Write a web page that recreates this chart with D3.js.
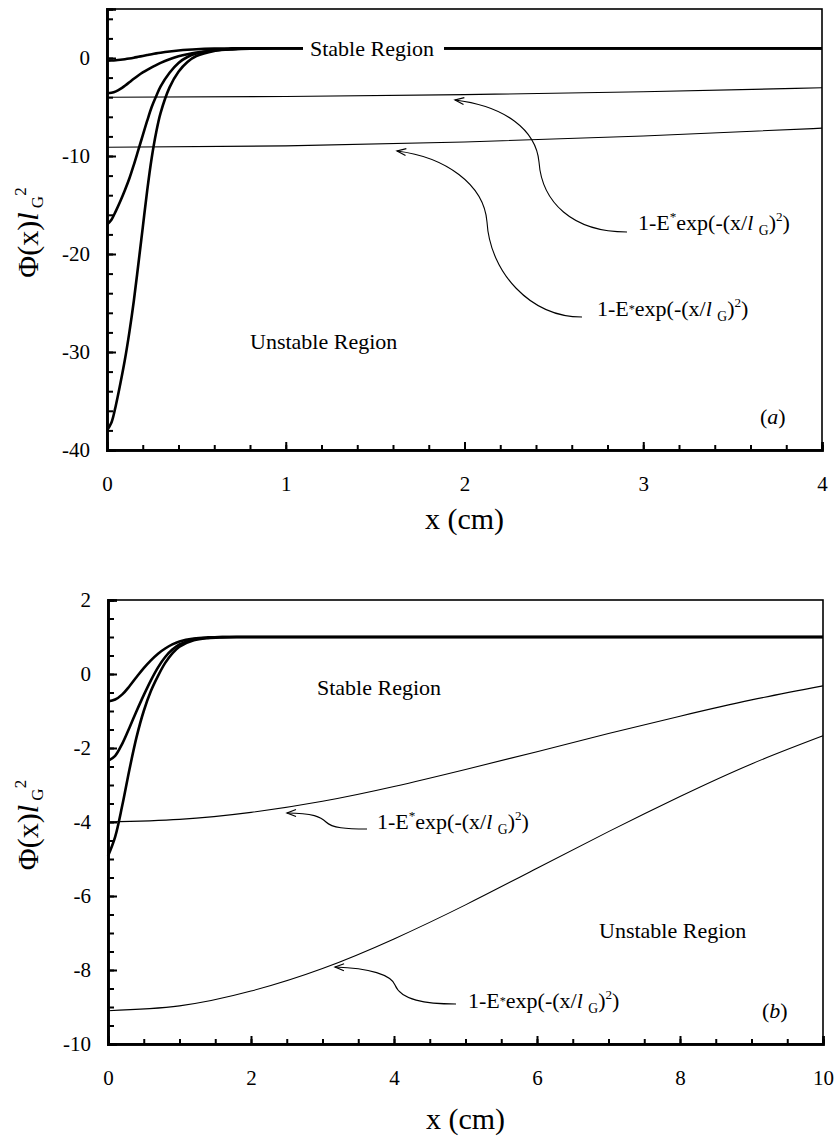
<!DOCTYPE html>
<html>
<head>
<meta charset="utf-8">
<script src="https://cdn.jsdelivr.net/npm/d3@7"></script>
<style>
  body { margin: 0; background: #fff; }
  text { font-family: "Liberation Serif", "Times New Roman", serif; fill: #000; }
</style>
</head>
<body>
<script>
'use strict';

// panel (a): heavy curves, sampled along xsA
const xsA = [0, 0.025, 0.05, 0.075, 0.1, 0.125, 0.15, 0.175, 0.2, 0.225, 0.25, 0.275,
  0.3, 0.35, 0.4, 0.45, 0.5, 0.6, 0.7, 0.8, 0.9, 1.0, 1.2, 4];
const curveA1 = [-0.27, -0.26, -0.23, -0.18, -0.12, -0.05, 0.03, 0.12, 0.21, 0.3, 0.39, 0.47,
  0.54, 0.66, 0.76, 0.84, 0.9, 0.96, 0.98, 0.99, 1, 1, 1, 1];
const curveA2 = [-3.6, -3.55, -3.4, -3.15, -2.83, -2.48, -2.12, -1.78, -1.47, -1.2, -0.95, -0.72,
  -0.5, -0.12, 0.17, 0.39, 0.56, 0.77, 0.88, 0.95, 0.98, 1, 1, 1];
const curveA3 = [-17.0, -16.5, -15.6, -14.6, -13.5, -12.3, -10.9, -9.4, -7.9, -6.4, -5.0, -3.9,
  -2.9, -1.5, -0.5, 0.1, 0.45, 0.78, 0.93, 0.98, 1, 1, 1, 1];
const curveA4 = [-38.0, -37.2, -35.4, -33.2, -30.8, -28.0, -24.8, -21.1, -17.3, -13.5, -10.2, -7.6,
  -5.6, -3.0, -1.4, -0.4, 0.2, 0.72, 0.92, 0.98, 1, 1, 1, 1];

// panel (a): thin gaussian lines
const xsAThin = [0, 1, 2, 3, 4];
const upperA = [-4.0, -3.93, -3.74, -3.44, -3.04];
const lowerA = [-9.1, -8.97, -8.57, -7.96, -7.16];

// panel (b)
const xsB = [0, 0.1, 0.2, 0.3, 0.4, 0.5, 0.6, 0.7, 0.8, 0.9, 1.0, 1.2, 1.4, 1.6, 1.8, 2.0, 10];
const curveB1 = [-0.74, -0.69, -0.55, -0.33, -0.08, 0.16, 0.37, 0.55, 0.69, 0.8, 0.88, 0.96, 0.99, 1, 1, 1, 1];
const curveB2 = [-2.35, -2.21, -1.88, -1.45, -1.0, -0.57, -0.17, 0.18, 0.46, 0.66, 0.8, 0.94, 0.98, 1, 1, 1, 1];
const curveB3 = [-4.92, -4.4, -3.55, -2.58, -1.7, -1.0, -0.46, -0.05, 0.3, 0.56, 0.74, 0.91, 0.97, 0.99, 1, 1, 1];

const xsBThin = [0, 1, 2, 3, 4, 5, 6, 7, 8, 9, 10];
const upperB = [-4.0, -3.93, -3.74, -3.44, -3.04, -2.58, -2.10, -1.61, -1.14, -0.70, -0.32];
const lowerB = [-9.1, -8.97, -8.57, -7.96, -7.16, -6.24, -5.25, -4.26, -3.31, -2.43, -1.67];

// ticks
const xMajorA = [0, 1, 2, 3, 4];
const xMinorA = d3.range(0, 4.001, 0.2);
const yMajorA = [-40, -30, -20, -10, 0];
const yMinorA = d3.range(-40, 5.001, 2);
const xMajorB = [0, 2, 4, 6, 8, 10];
const xMinorB = d3.range(0, 10.001, 0.5);
const yMajorB = [-10, -8, -6, -4, -2, 0, 2];
const yMinorB = d3.range(-10, 2.001, 0.5);

const svg = d3.select('body').append('svg')
  .attr('width', 836)
  .attr('height', 1138);

let defs = svg.append('defs');
defs.append('marker')
  .attr('id', 'arrow')
  .attr('viewBox', '-10 -5 12 10')
  .attr('refX', 0).attr('refY', 0)
  .attr('markerWidth', 12).attr('markerHeight', 10)
  .attr('markerUnits', 'userSpaceOnUse')
  .attr('orient', 'auto-start-reverse')
  .append('path')
    .attr('d', 'M-9,-3.5 L0,0 L-9,3.5')
    .attr('fill', 'none')
    .attr('stroke', '#000')
    .attr('stroke-width', 1.2);

function zip(xs, ys) {
  return xs.map(function(x, i) { return [x, ys[i]]; });
}

// text with sub/superscript parts: [string, kind]
function rich(g, x, y, size, parts, anchor) {
  let t = g.append('text')
    .attr('x', x).attr('y', y)
    .attr('text-anchor', anchor || 'start')
    .style('font-size', size + 'px');
  let cur = 0;
  parts.forEach(function(p) {
    let kind = p[1] || '';
    let off = 0, fs = size;
    if (kind === 'sup') { off = -size * 0.42; fs = size * 0.6; }
    if (kind === 'sub') { off = size * 0.22; fs = size * 0.62; }
    if (kind === 'mid') { off = -size * 0.12; fs = size * 0.55; }
    let ts = t.append('tspan').attr('dy', off - cur).style('font-size', fs + 'px').text(p[0]);
    if (kind === 'i') ts.style('font-style', 'italic');
    cur = off;
  });
  return t;
}

function formula(star) {
  return [['1-E'], ['*', star], ['exp(-(x/'], ['l', 'i'], [' '], ['G', 'sub'], [')'], ['2', 'sup'], [')']];
}

function drawPanel(p) {
  let g = svg.append('g');
  let x = d3.scaleLinear().domain(p.xDomain).range([p.left, p.right]);
  let y = d3.scaleLinear().domain(p.yDomain).range([p.bottom, p.top]);

  // frame (top / right thinner)
  g.append('rect')
    .attr('x', p.left).attr('y', p.top)
    .attr('width', p.right - p.left).attr('height', p.bottom - p.top)
    .attr('fill', 'none').attr('stroke', '#000').attr('stroke-width', 1.6);

  let line = d3.line()
    .x(function(d) { return x(d[0]); })
    .y(function(d) { return y(d[1]); });

  p.thin.forEach(function(s) {
    g.append('path')
      .datum(s)
      .attr('d', line.curve(d3.curveNatural))
      .attr('fill', 'none').attr('stroke', '#000').attr('stroke-width', 1.1);
  });
  p.heavy.forEach(function(s) {
    g.append('path')
      .datum(s)
      .attr('d', line.curve(d3.curveCatmullRom.alpha(0.5)))
      .attr('fill', 'none').attr('stroke', '#000').attr('stroke-width', 2.6);
  });

  // axes, ticks inward
  let xMinor = g.append('g').attr('transform', 'translate(0,' + p.bottom + ')')
    .call(d3.axisBottom(x).tickValues(p.xMinor).tickSize(-5).tickFormat(''));
  let xMajor = g.append('g').attr('transform', 'translate(0,' + p.bottom + ')')
    .call(d3.axisBottom(x).tickValues(p.xMajor).tickSize(-8).tickPadding(26).tickFormat(d3.format('d')));
  let yMinor = g.append('g').attr('transform', 'translate(' + p.left + ',0)')
    .call(d3.axisLeft(y).tickValues(p.yMinor).tickSize(-6).tickFormat(''));
  let yMajor = g.append('g').attr('transform', 'translate(' + p.left + ',0)')
    .call(d3.axisLeft(y).tickValues(p.yMajor).tickSize(-9).tickPadding(17)
      .tickFormat(function(d) { return String(d).replace('−', '-'); }));

  [xMinor, xMajor, yMinor, yMajor].forEach(function(a) {
    a.attr('font-family', null);
    a.select('.domain').attr('stroke-width', 2.6);
    a.selectAll('.tick line').attr('stroke-width', 2);
    a.selectAll('.tick text')
      .style('font-family', '"Liberation Serif", serif')
      .style('font-size', '21px');
  });
  xMajor.selectAll('.tick text').attr('dy', '0.71em');

  // axis titles
  g.append('text')
    .attr('x', (p.left + p.right) / 2 + 0).attr('y', p.bottom + p.titleGap)
    .attr('text-anchor', 'middle')
    .style('font-size', '30px')
    .text('x (cm)');

  let cy = (p.top + p.bottom) / 2 + 3;
  let yt = g.append('g').attr('transform', 'translate(38,' + cy + ') rotate(-90)');
  let tt = yt.append('text').attr('x', 0).attr('y', 0)
    .attr('text-anchor', 'middle').style('font-size', '30px');
  tt.append('tspan').text('Φ(x)');
  tt.append('tspan').style('font-style', 'italic').text('l');
  tt.append('tspan').attr('dy', 5).style('font-size', '17px').text(' G');
  tt.append('tspan').attr('dy', -17).style('font-size', '17px').text('2');

  return { g: g, x: x, y: y };
}

// ---------- panel (a)
let pa = drawPanel({
  left: 107, right: 822, top: 9, bottom: 450, titleGap: 79,
  xDomain: [0, 4], yDomain: [-40, 5],
  xMajor: xMajorA, xMinor: xMinorA, yMajor: yMajorA, yMinor: yMinorA,
  heavy: [zip(xsA, curveA1), zip(xsA, curveA2), zip(xsA, curveA3), zip(xsA, curveA4)],
  thin: [zip(xsAThin, upperA), zip(xsAThin, lowerA)]
});

pa.g.append('rect')
  .attr('x', 303).attr('y', 38).attr('width', 141).attr('height', 22)
  .attr('fill', '#fff');
pa.g.append('text').attr('x', 310).attr('y', 56).style('font-size', '22px').text('Stable Region');
pa.g.append('text').attr('x', 250).attr('y', 349).style('font-size', '22px').text('Unstable Region');
rich(pa.g, 760, 424, 22, [['('], ['a', 'i'], [')']]);

pa.g.append('path')
  .attr('d', 'M455,100 C505,106 536,130 539,162 C542,202 572,232 627,232')
  .attr('fill', 'none').attr('stroke', '#000').attr('stroke-width', 1.1)
  .attr('marker-start', 'url(#arrow)');
rich(pa.g, 638, 230, 22, formula('sup'));

pa.g.append('path')
  .attr('d', 'M397,151 C445,157 484,184 487,222 C490,272 530,317 582,317')
  .attr('fill', 'none').attr('stroke', '#000').attr('stroke-width', 1.1)
  .attr('marker-start', 'url(#arrow)');
rich(pa.g, 597, 316, 22, formula('mid'));

// ---------- panel (b)
let pb = drawPanel({
  left: 108, right: 823, top: 600, bottom: 1044, titleGap: 85,
  xDomain: [0, 10], yDomain: [-10, 2],
  xMajor: xMajorB, xMinor: xMinorB, yMajor: yMajorB, yMinor: yMinorB,
  heavy: [zip(xsB, curveB1), zip(xsB, curveB2), zip(xsB, curveB3)],
  thin: [zip(xsBThin, upperB), zip(xsBThin, lowerB)]
});

pb.g.append('text').attr('x', 317).attr('y', 695).style('font-size', '22px').text('Stable Region');
pb.g.append('text').attr('x', 599).attr('y', 938).style('font-size', '22px').text('Unstable Region');
rich(pb.g, 762, 1018, 22, [['('], ['b', 'i'], [')']]);

pb.g.append('path')
  .attr('d', 'M287,813 C313,813 321,817 326,822 C332,828 346,829 367,829')
  .attr('fill', 'none').attr('stroke', '#000').attr('stroke-width', 1.1)
  .attr('marker-start', 'url(#arrow)');
rich(pb.g, 377, 829, 22, formula('sup'));

pb.g.append('path')
  .attr('d', 'M335,967 C370,968 391,975 395,985 C401,1000 425,1004 456,1004')
  .attr('fill', 'none').attr('stroke', '#000').attr('stroke-width', 1.1)
  .attr('marker-start', 'url(#arrow)');
rich(pb.g, 468, 1008, 22, formula('mid'));
</script>
</body>
</html>
